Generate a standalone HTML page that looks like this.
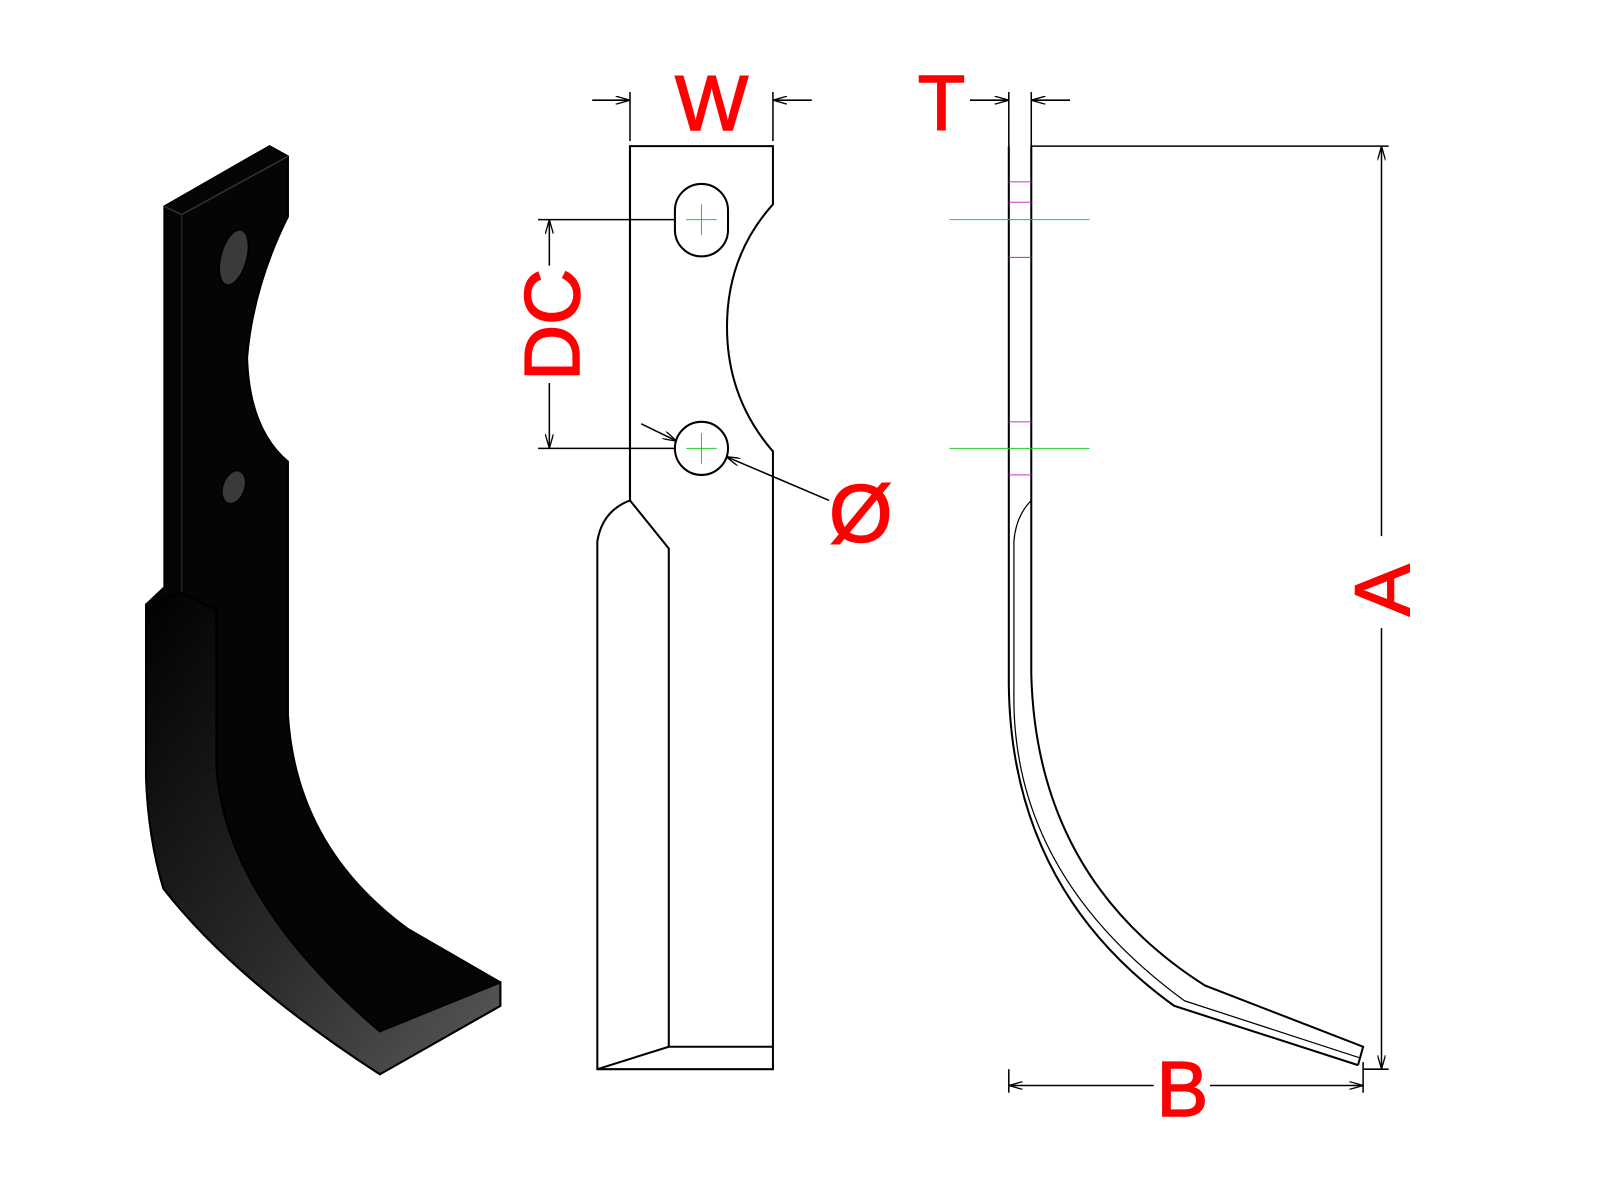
<!DOCTYPE html>
<html><head><meta charset="utf-8"><style>html,body{margin:0;padding:0;background:#fff}svg{display:block}</style></head>
<body>
<svg width="1600" height="1200" viewBox="0 0 1567 1175" xmlns="http://www.w3.org/2000/svg">
<defs>
<linearGradient id="g1" x1="0" y1="0" x2="1" y2="1"><stop offset="0" stop-color="#000"/><stop offset="0.55" stop-color="#2a2a2a"/><stop offset="1" stop-color="#5a5a5a"/></linearGradient>
<marker id="ar" markerWidth="14" markerHeight="8" refX="14" refY="4" orient="auto" markerUnits="userSpaceOnUse"><path d="M0,0 L14,4 L0,8" fill="none" stroke="#000" stroke-width="1.3"/></marker>
</defs>
<!-- 3D blade -->
<path d="M161,202 L264,143 L282,153 L282,212 Q248,280 242,350 Q244,420 282,452 L282,700 Q290,830 400,910 L490,962 L490,985 L372,1052 Q230,960 160,870 Q145,820 143,760 L143,592 L161,575 Z" fill="#050505" stroke="#000" stroke-width="2"/>
<path d="M143,592 L178,580 L212,598 L212,750 Q220,880 372,1010 L490,962 L490,985 L372,1052 Q230,960 160,870 Q145,820 143,760 Z" fill="url(#g1)" stroke="#000" stroke-width="2"/>
<path d="M212,598 L212,750 Q220,880 372,1010" fill="none" stroke="#000" stroke-width="2"/>
<path d="M161,202 L178,210 L282,153" fill="none" stroke="#333" stroke-width="1.5"/>
<line x1="178" y1="210" x2="178" y2="580" stroke="#222" stroke-width="1.5"/>
<ellipse cx="229" cy="252" rx="13" ry="28" transform="rotate(15 229 252)" fill="#3a3a3a" stroke="#000" stroke-width="2"/>
<ellipse cx="229" cy="477" rx="11" ry="17" transform="rotate(20 229 477)" fill="#3a3a3a" stroke="#000" stroke-width="2"/>
<!-- front view -->
<g fill="none" stroke="#000" stroke-width="2">
<path d="M617,143 L757,143 L757,200 Q712,250 712,320 Q712,390 757,442 L757,1047 L585,1047 L585,530 Q590,500 617,490 Z"/>
<path d="M617,143 L617,490 L655,537 L655,1025 L757,1025"/>
<path d="M585,1047 L655,1025"/>
<rect x="661" y="180" width="52" height="71" rx="26" ry="26"/>
<circle cx="687" cy="439" r="26"/>
</g>
<g stroke="#2c2" stroke-width="1"><line x1="672" y1="215" x2="702" y2="215"/><line x1="687" y1="200" x2="687" y2="230"/><line x1="672" y1="439" x2="702" y2="439"/><line x1="687" y1="424" x2="687" y2="454"/></g>
<!-- dims front -->
<g stroke="#000" stroke-width="1.5" fill="none">
<line x1="617" y1="90" x2="617" y2="138"/><line x1="757" y1="90" x2="757" y2="138"/>
<line x1="580" y1="98" x2="617" y2="98" marker-end="url(#ar)"/><line x1="795" y1="98" x2="757" y2="98" marker-end="url(#ar)"/>
<line x1="527" y1="215" x2="662" y2="215"/><line x1="527" y1="439" x2="662" y2="439"/>
<line x1="538" y1="260" x2="538" y2="215" marker-end="url(#ar)"/><line x1="538" y1="375" x2="538" y2="439" marker-end="url(#ar)"/>
<line x1="628" y1="415" x2="663" y2="432" marker-end="url(#ar)"/><line x1="812" y1="490" x2="711" y2="447" marker-end="url(#ar)"/>
</g>
<!-- side view -->
<g fill="none" stroke="#000" stroke-width="2">
<path d="M988,143 L988,670 Q990,870 1150,985 L1330,1043"/>
<path d="M1010,143 L1010,660 Q1015,860 1180,965 L1335,1025 L1330,1043"/>
<path d="M1010,490 Q995,505 993,530 L993,690 Q996,860 1160,980 L1332,1036" stroke-width="1.2"/>
<line x1="1010" y1="143" x2="1360" y2="143" stroke-width="1.5"/>
<line x1="1335" y1="1047" x2="1360" y2="1047" stroke-width="1.5"/>
<line x1="988" y1="90" x2="988" y2="143" stroke-width="1.5"/><line x1="1010" y1="90" x2="1010" y2="143" stroke-width="1.5"/>
<line x1="988" y1="1047" x2="988" y2="1070" stroke-width="1.5"/><line x1="1335" y1="1040" x2="1335" y2="1070" stroke-width="1.5"/>
</g>
<g stroke="#000" stroke-width="1.5">
<line x1="950" y1="98" x2="988" y2="98" marker-end="url(#ar)"/><line x1="1048" y1="98" x2="1010" y2="98" marker-end="url(#ar)"/>
<line x1="1353" y1="525" x2="1353" y2="143" marker-end="url(#ar)"/><line x1="1353" y1="615" x2="1353" y2="1047" marker-end="url(#ar)"/>
<line x1="1130" y1="1063" x2="988" y2="1063" marker-end="url(#ar)"/><line x1="1185" y1="1063" x2="1335" y2="1063" marker-end="url(#ar)"/>
</g>
<g stroke="#2c2" stroke-width="1"><line x1="930" y1="215" x2="1067" y2="215"/><line x1="930" y1="439" x2="1067" y2="439"/></g>
<g stroke="#c3c" stroke-width="1"><line x1="988" y1="178" x2="1010" y2="178"/><line x1="988" y1="198" x2="1010" y2="198"/><line x1="988" y1="252" x2="1010" y2="252"/><line x1="988" y1="413" x2="1010" y2="413"/><line x1="988" y1="465" x2="1010" y2="465"/></g>
<!-- labels -->
<g font-family="Liberation Sans, sans-serif" fill="#f00" font-size="76" text-anchor="middle" stroke="#f00" stroke-width="1.5">
<text x="697" y="127">W</text>
<text x="922" y="127">T</text>
<text x="1158" y="1093">B</text>
<text transform="translate(567,318) rotate(-90)">DC</text>
<text transform="translate(1380,578) rotate(-90)">A</text>
<text x="843" y="530" font-size="80">Ø</text>
</g>
</svg>
</body></html>
